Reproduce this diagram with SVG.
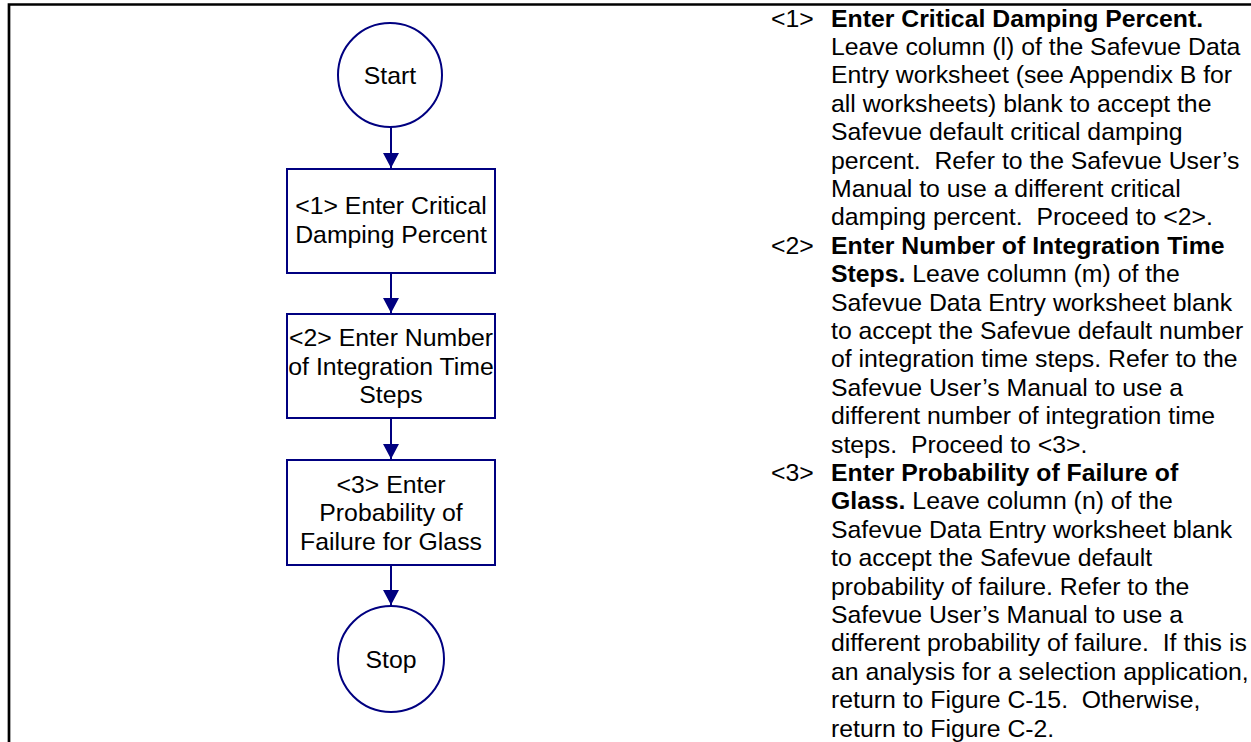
<svg xmlns="http://www.w3.org/2000/svg" width="1251" height="742" viewBox="0 0 1251 742">
<style>
text{font-family:"Liberation Sans",Arial,sans-serif;font-size:24.8px;fill:#000;white-space:pre}
.n{fill:#fff;stroke:#000080;stroke-width:2}
.c{stroke:#000080;stroke-width:2;fill:none}
.b{font-weight:bold}
.m{text-anchor:middle}
</style>
<defs>
<marker id="ah" markerUnits="userSpaceOnUse" markerWidth="16" markerHeight="16" refX="15" refY="8" orient="auto">
<path d="M0,0 L15,8 L0,16 Z" fill="#000080"/>
</marker>
</defs>
<rect width="1251" height="742" fill="#fff"/>
<path d="M9,742 V4.5 H1251" fill="none" stroke="#000" stroke-width="2.7"/>
<g id="connectors">
<line class="c" x1="391" y1="127" x2="391" y2="168" marker-end="url(#ah)"/>
<line class="c" x1="391" y1="273" x2="391" y2="313" marker-end="url(#ah)"/>
<line class="c" x1="391" y1="418" x2="391" y2="459" marker-end="url(#ah)"/>
<line class="c" x1="391" y1="565" x2="391" y2="605" marker-end="url(#ah)"/>
</g>
<g id="start">
<circle class="n" cx="390" cy="75" r="52"/>
<text class="m" x="390" y="84">Start</text>
</g>
<g id="step1">
<rect class="n" x="287" y="169" width="208" height="104"/>
<text class="m" x="391" y="214">&lt;1&gt; Enter Critical</text>
<text class="m" x="391" y="242.5">Damping Percent</text>
</g>
<g id="step2">
<rect class="n" x="287" y="314" width="208" height="104"/>
<text class="m" x="391" y="346">&lt;2&gt; Enter Number</text>
<text class="m" x="391" y="374.5">of Integration Time</text>
<text class="m" x="391" y="403">Steps</text>
</g>
<g id="step3">
<rect class="n" x="287" y="460" width="208" height="105"/>
<text class="m" x="391" y="492.5">&lt;3&gt; Enter</text>
<text class="m" x="391" y="521">Probability of</text>
<text class="m" x="391" y="549.5">Failure for Glass</text>
</g>
<g id="stop">
<circle class="n" cx="391" cy="659" r="53"/>
<text class="m" x="391" y="668">Stop</text>
</g>
<g id="notes">
<text x="771" y="26.5">&lt;1&gt;</text>
<text x="831" y="26.5" class="b">Enter Critical Damping Percent.</text>
<text x="831" y="54.9">Leave column (l) of the Safevue Data</text>
<text x="831" y="83.3">Entry worksheet (see Appendix B for</text>
<text x="831" y="111.7">all worksheets) blank to accept the</text>
<text x="831" y="140.1">Safevue default critical damping</text>
<text x="831" y="168.5">percent.  Refer to the Safevue User’s</text>
<text x="831" y="196.9">Manual to use a different critical</text>
<text x="831" y="225.3">damping percent.  Proceed to &lt;2&gt;.</text>
<text x="771" y="253.7">&lt;2&gt;</text>
<text x="831" y="253.7" class="b">Enter Number of Integration Time</text>
<text x="831" y="282.1"><tspan class="b">Steps.</tspan> Leave column (m) of the</text>
<text x="831" y="310.5">Safevue Data Entry worksheet blank</text>
<text x="831" y="338.9">to accept the Safevue default number</text>
<text x="831" y="367.3">of integration time steps. Refer to the</text>
<text x="831" y="395.7">Safevue User’s Manual to use a</text>
<text x="831" y="424.1">different number of integration time</text>
<text x="831" y="452.5">steps.  Proceed to &lt;3&gt;.</text>
<text x="771" y="480.9">&lt;3&gt;</text>
<text x="831" y="480.9" class="b">Enter Probability of Failure of</text>
<text x="831" y="509.3"><tspan class="b">Glass.</tspan> Leave column (n) of the</text>
<text x="831" y="537.7">Safevue Data Entry worksheet blank</text>
<text x="831" y="566.1">to accept the Safevue default</text>
<text x="831" y="594.5">probability of failure. Refer to the</text>
<text x="831" y="622.9">Safevue User’s Manual to use a</text>
<text x="831" y="651.3">different probability of failure.  If this is</text>
<text x="831" y="679.7">an analysis for a selection application,</text>
<text x="831" y="708.1">return to Figure C-15.  Otherwise,</text>
<text x="831" y="736.5">return to Figure C-2.</text>
</g>
</svg>
